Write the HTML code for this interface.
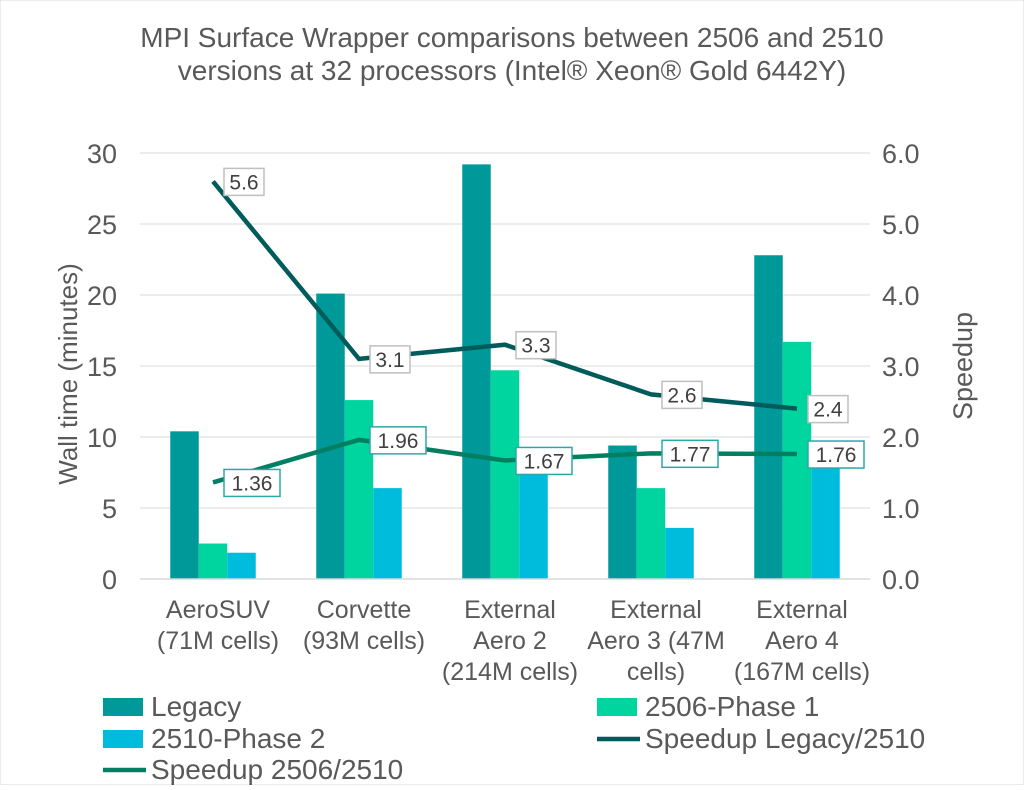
<!DOCTYPE html>
<html><head><meta charset="utf-8"><style>
body{margin:0;background:#fff;}
svg{font-family:"Liberation Sans",sans-serif;}
</style></head><body>
<svg width="1024" height="785">
<rect width="1024" height="785" fill="#fff" stroke="#d9d9d9"/>
</svg>
<script>
const categories=[["AeroSUV","(71M cells)"],["Corvette","(93M cells)"],["External","Aero 2","(214M cells)"],["External","Aero 3 (47M","cells)"],["External","Aero 4","(167M cells)"]];
const legacy=[10.4,20.1,29.2,9.4,22.8];
const phase1=[2.5,12.6,14.7,6.4,16.7];
const phase2=[1.85,6.4,8.8,3.6,9.5];
const speedupLegacy=[5.6,3.1,3.3,2.6,2.4];
const speedup2506=[1.36,1.96,1.67,1.77,1.76];
const leftTicks=[0,5,10,15,20,25,30];
const rightTicks=["0.0","1.0","2.0","3.0","4.0","5.0","6.0"];

const NS="http://www.w3.org/2000/svg";
const svg=document.querySelector("svg");
const X0=140,X1=870,Y0=579,Y1=153;
const band=(X1-X0)/categories.length;
const xc=i=>X0+band*(i+0.5);
const yL=v=>Y0-(Y0-Y1)*v/30;
const yR=v=>Y0-(Y0-Y1)*v/6;
function el(t,a,txt){const e=document.createElementNS(NS,t);for(const k in a)e.setAttribute(k,a[k]);if(txt!==undefined)e.textContent=txt;svg.appendChild(e);return e;}

let t=el("text",{x:512,y:47,"text-anchor":"middle","font-size":"28","fill":"#595959"},"MPI Surface Wrapper comparisons between 2506 and 2510");


t=el("text",{x:512,y:80,"text-anchor":"middle","font-size":"28","fill":"#595959"},"versions at 32 processors (Intel® Xeon® Gold 6442Y)");



leftTicks.forEach((v,i)=>{
  if(v>0){const g=el("line",{x1:X0,x2:X1,y1:yL(v),y2:yL(v),stroke:"#d9d9d9","stroke-width":1});
  
  }
  const a=el("text",{x:117,y:yL(v)+10,"text-anchor":"end","font-size":"27",fill:"#595959"},v);
  
  
  const b=el("text",{x:882,y:yR(i)+10,"font-size":"27",fill:"#595959"},rightTicks[i]);
  
  
});
t=el("text",{transform:"translate(77,374) rotate(-90)","text-anchor":"middle","font-size":"26",fill:"#595959"},"Wall time (minutes)");


t=el("text",{transform:"translate(972,366) rotate(-90)","text-anchor":"middle","font-size":"27",fill:"#595959"},"Speedup");



const bw=28.5;
const series=[[legacy,"#009999"],[phase1,"#00d5a0"],[phase2,"#00bcdc"]];
series.forEach(([arr,col],s)=>{
  arr.forEach((v,i)=>{
    const r=el("rect",{x:xc(i)-bw*1.5+s*bw,y:yL(v),width:bw,height:Y0-yL(v),fill:col});
    
    
  });
});
t=el("line",{x1:X0,x2:X1,y1:Y0,y2:Y0,stroke:"#d9d9d9","stroke-width":1.5});



categories.forEach((lines,i)=>{
  lines.forEach((s,j)=>{
    const a=el("text",{x:xc(i)+5,y:618+j*31,"text-anchor":"middle","font-size":"25",fill:"#595959"},s);
    
    
  });
});

function line(arr,col,border,name){
  const p=el("polyline",{points:arr.map((v,i)=>xc(i)+","+yR(v)).join(" "),fill:"none",stroke:col,"stroke-width":4.5});
  
  
  arr.forEach((v,i)=>{
    const s=String(v).length===3?String(v):v.toFixed(2);
    const w=s.length>3?56:40;
    const bx=el("rect",{x:xc(i)+11,y:yR(v)-13,width:w,height:27,fill:"#fff",stroke:border,"stroke-width":1.5});
    
    
    const tx=el("text",{x:xc(i)+11+w/2,y:yR(v)+8,"text-anchor":"middle","font-size":"21",fill:"#404040"},s);
    
    
  });
}
line(speedupLegacy,"#005c5a","#bfbfbf","speedup-legacy-line");
line(speedup2506,"#008060","#2aa8a8","speedup-2506-line");

const legend=[["rect","#009999",103,707,"Legacy"],["rect","#00d5a0",597,707,"2506-Phase 1"],["rect","#00bcdc",103,739,"2510-Phase 2"],["line","#005c5a",597,739,"Speedup Legacy/2510"],["line","#008060",103,770,"Speedup 2506/2510"]];
legend.forEach(([k,c,x,y,l])=>{
  const m=k==="rect"?el("rect",{x:x,y:y-9,width:40,height:18,fill:c}):el("line",{x1:x,x2:x+43,y1:y,y2:y,stroke:c,"stroke-width":4.5});
  
  
  const tx=el("text",{x:x+48,y:y+9,"font-size":"28",fill:"#595959"},l);
  
  
});
</script>
</body></html>
